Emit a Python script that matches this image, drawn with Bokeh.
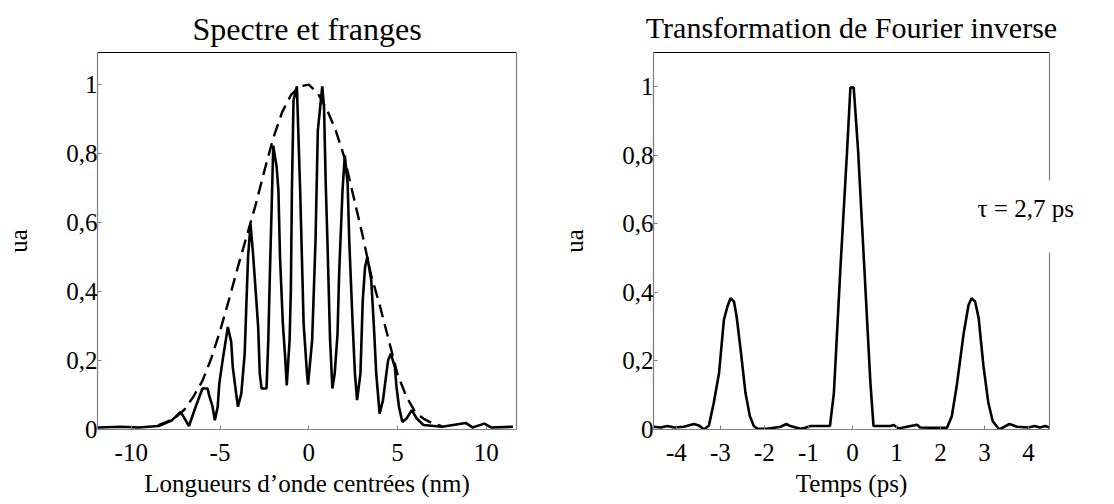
from bokeh.plotting import figure
from bokeh.models import Range1d, FixedTicker, LinearAxis, CustomJSTickFormatter
from bokeh.layouts import row
from bokeh.embed import file_html
from bokeh.resources import INLINE

FONT = "Liberation Serif"

# ---- Left panel: spectrum with fringes (nm, a.u.) ----
spec_x = [-11.88, -10.55, -9.6, -8.46, -7.70, -7.22, -6.94, -6.75, -6.37, -5.99, -5.70, -5.61,
          -5.42, -5.29, -5.13, -5.04, -4.85, -4.56, -4.37, -4.28, -4.09, -3.99, -3.80, -3.61,
          -3.52, -3.42, -3.28, -3.14, -2.98, -2.85, -2.76, -2.66, -2.38, -2.28, -2.19, -2.09,
          -2.00, -1.81, -1.71, -1.62, -1.46, -1.33, -1.24, -1.08, -1.01, -0.95, -0.86, -0.67,
          -0.48, -0.29, -0.10, -0.04, 0.19, 0.38, 0.51, 0.76, 0.86, 0.95, 1.05, 1.20, 1.33,
          1.46, 1.62, 1.71, 1.90, 2.03, 2.19, 2.28, 2.47, 2.60, 2.72, 2.91, 3.04, 3.17, 3.30,
          3.52, 3.67, 3.80, 3.99, 4.18, 4.37, 4.47, 4.62, 4.85, 4.94, 5.08, 5.27, 5.51, 5.80,
          6.08, 6.46, 7.51, 8.84, 9.22, 9.89, 10.27, 11.50]
spec_y = [0.006, 0.008, 0.006, 0.010, 0.027, 0.051, 0.027, 0.010, 0.066, 0.119, 0.119, 0.099,
          0.066, 0.027, 0.066, 0.133, 0.201, 0.297, 0.254, 0.181, 0.104, 0.066, 0.104, 0.220,
          0.355, 0.500, 0.595, 0.510, 0.394, 0.297, 0.162, 0.119, 0.119, 0.259, 0.452, 0.645,
          0.823, 0.761, 0.693, 0.500, 0.307, 0.210, 0.128, 0.259, 0.403, 0.693, 0.954, 0.995,
          0.683, 0.307, 0.162, 0.130, 0.259, 0.548, 0.867, 0.995, 0.934, 0.722, 0.548, 0.259,
          0.119, 0.162, 0.278, 0.452, 0.693, 0.794, 0.712, 0.548, 0.307, 0.162, 0.085, 0.162,
          0.375, 0.471, 0.500, 0.432, 0.297, 0.162, 0.046, 0.085, 0.162, 0.201, 0.220, 0.181,
          0.124, 0.066, 0.022, 0.032, 0.056, 0.032, 0.013, 0.008, 0.019, 0.006, 0.017, 0.006,
          0.008]

env_x = [-8.5, -8.0, -7.5, -7.0, -6.5, -6.0, -5.5, -5.0, -4.5, -4.0, -3.5, -3.0, -2.5, -2.0,
         -1.5, -1.0, -0.5, 0.0, 0.5, 1.0, 1.5, 2.0, 2.5, 3.0, 3.5, 4.0, 4.5, 5.0, 5.5, 6.0,
         6.5, 7.0, 7.5]
env_y = [0.012, 0.022, 0.035, 0.058, 0.095, 0.14, 0.205, 0.285, 0.375, 0.47, 0.56, 0.65,
         0.75, 0.845, 0.92, 0.97, 0.995, 1.0, 0.975, 0.93, 0.87, 0.79, 0.68, 0.57, 0.45,
         0.36, 0.26, 0.16, 0.095, 0.05, 0.03, 0.017, 0.01]

# ---- Right panel: inverse Fourier transform (ps, a.u.) ----
ft_x = [-4.51, -4.36, -4.20, -4.05, -3.83, -3.60, -3.49, -3.37, -3.26, -3.15, -3.03, -2.92,
        -2.84, -2.77, -2.69, -2.63, -2.54, -2.43, -2.33, -2.24, -2.16, -1.94, -1.63, -1.50,
        -1.41, -1.18, -1.07, -0.95, -0.57, -0.51, -0.42, -0.27, -0.12, -0.045, 0.03, 0.13,
        0.27, 0.41, 0.48, 0.86, 0.94, 1.05, 1.24, 1.47, 1.54, 1.77, 2.15, 2.26, 2.37, 2.53,
        2.64, 2.71, 2.79, 2.87, 2.98, 3.09, 3.19, 3.34, 3.57, 3.74, 4.00, 4.15, 4.26, 4.38,
        4.48]
ft_y = [0.008, 0.006, 0.010, 0.006, 0.008, 0.016, 0.012, 0.0, 0.012, 0.078, 0.165, 0.320,
        0.359, 0.383, 0.373, 0.329, 0.233, 0.107, 0.039, 0.010, 0.002, 0.002, 0.008, 0.016,
        0.010, 0.002, 0.005, 0.010, 0.010, 0.010, 0.107, 0.475, 0.814, 0.998, 0.998, 0.814,
        0.475, 0.136, 0.010, 0.010, 0.013, 0.003, 0.008, 0.014, 0.006, 0.005, 0.005, 0.039,
        0.126, 0.281, 0.363, 0.383, 0.373, 0.325, 0.184, 0.078, 0.024, 0.0, 0.016, 0.008,
        0.006, 0.010, 0.006, 0.010, 0.006]

xticks_left = [-10, -5, 0, 5, 10]
xticks_right = [-4, -3, -2, -1, 0, 1, 2, 3, 4]
yticks = [0, 0.2, 0.4, 0.6, 0.8, 1]
tau_text = "\u03c4 = 2,7 ps"
tau_y = 0.645

AXIS_GRAY = "#7f7f7f"
fmt_code = "return String(tick).replace('.', ',');"
FS = "25px"


def frame_axis(color, bounds="auto"):
    return LinearAxis(ticker=FixedTicker(ticks=[]), bounds=bounds,
                      axis_line_color=color, axis_line_width=1.2,
                      major_tick_in=0, major_tick_out=0, minor_tick_in=0, minor_tick_out=0,
                      major_label_standoff=0, major_label_text_font_size="0px")


def style(p, xticks, title_size, title_standoff):
    p.xaxis.ticker = FixedTicker(ticks=xticks)
    p.yaxis.ticker = FixedTicker(ticks=yticks)
    p.xaxis.formatter = CustomJSTickFormatter(code=fmt_code)
    p.yaxis.formatter = CustomJSTickFormatter(code=fmt_code)
    p.xgrid.visible = False
    p.ygrid.visible = False
    p.outline_line_color = None
    for ax in p.axis:
        ax.axis_line_color = AXIS_GRAY
        ax.axis_line_width = 1.2
        ax.major_tick_line_color = AXIS_GRAY
        ax.major_tick_in = 4
        ax.major_tick_out = 0
        ax.minor_tick_line_color = None
        ax.major_label_text_font = FONT
        ax.major_label_text_font_size = FS
        ax.major_label_text_color = "black"
        ax.axis_label_text_font = FONT
        ax.axis_label_text_font_size = FS
        ax.axis_label_text_font_style = "normal"
        ax.axis_label_text_color = "black"
    p.yaxis.major_label_standoff = 0
    p.yaxis.axis_label_standoff = 31
    p.xaxis.major_label_standoff = 14
    p.xaxis.axis_label_standoff = 6
    p.title.text_font = FONT
    p.title.text_font_size = title_size
    p.title.text_font_style = "normal"
    p.title.text_color = "black"
    p.title.align = "center"
    p.title.standoff = title_standoff
    p.add_layout(frame_axis("black"), "above")


p1 = figure(width=540, height=504, output_backend="svg", toolbar_location=None,
            x_range=Range1d(-11.9, 11.7), y_range=Range1d(0, 1.093),
            title="Spectre et franges", x_axis_label="Longueurs d\u2019onde centr\u00e9es (nm)",
            y_axis_label="ua", min_border_left=97, min_border_right=24,
            min_border_top=52, min_border_bottom=75)
style(p1, xticks_left, "32px", 12)
p1.add_layout(frame_axis(AXIS_GRAY), "right")
p1.line(env_x, env_y, line_color="black", line_width=2.4, line_dash="13 7")
p1.line(spec_x, spec_y, line_color="black", line_width=2.6)

p2 = figure(width=574, height=504, output_backend="svg", toolbar_location=None,
            x_range=Range1d(-4.52, 4.48), y_range=Range1d(0, 1.10),
            title="Transformation de Fourier inverse", x_axis_label="Temps (ps)",
            y_axis_label="ua", min_border_left=113, min_border_right=65,
            min_border_top=51, min_border_bottom=74)
style(p2, xticks_right, "30px", 17)
p2.add_layout(frame_axis(AXIS_GRAY, (0.727, 1.10)), "right")
p2.add_layout(frame_axis(AXIS_GRAY, (0.0, 0.515)), "right")
tau_axis = LinearAxis(ticker=FixedTicker(ticks=[tau_y]),
                      formatter=CustomJSTickFormatter(code="return '%s';" % tau_text),
                      axis_line_color=None, major_tick_line_color=None,
                      major_tick_in=0, major_tick_out=0, minor_tick_in=0, minor_tick_out=0,
                      major_label_standoff=-72, major_label_text_font=FONT,
                      major_label_text_font_size=FS, major_label_text_color="black")
p2.add_layout(tau_axis, "right")
p2.line(ft_x, ft_y, line_color="black", line_width=2.6)

layout = row(p1, p2)
open("out.html", "w").write(file_html(layout, INLINE))
